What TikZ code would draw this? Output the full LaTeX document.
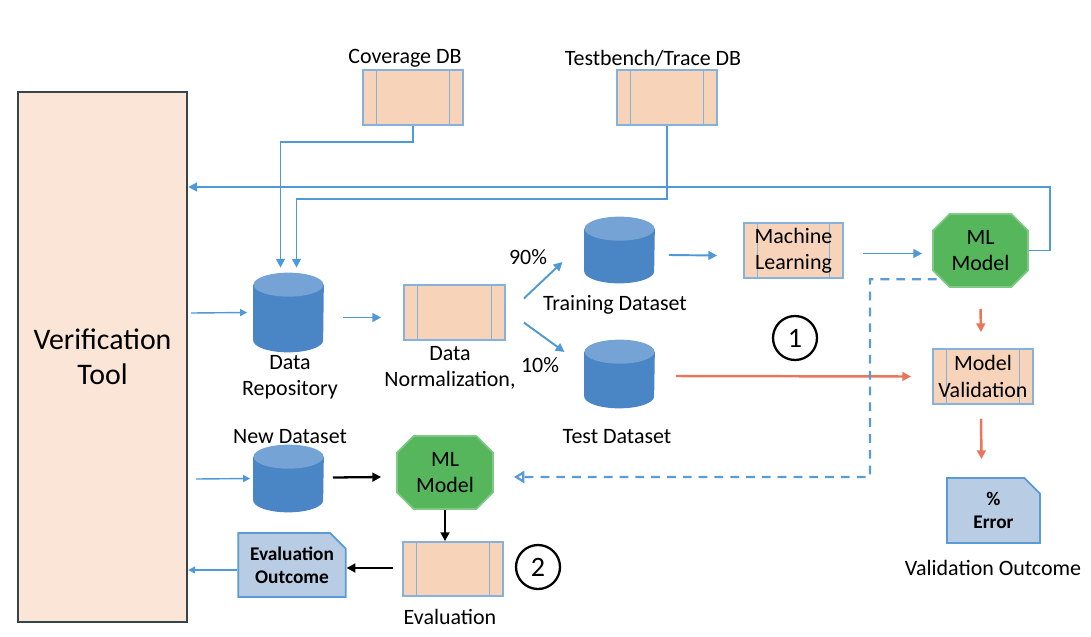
\documentclass[tikz,border=0pt]{standalone}
\usepackage{fontspec}
\setmainfont{Carlito}
\usepackage{tikz}
\usetikzlibrary{shapes.geometric, shapes.misc, positioning, arrows.meta, calc}

\definecolor{peach}{HTML}{F7D3BA}
\definecolor{toolfill}{HTML}{FBE5D6}
\definecolor{tooldraw}{HTML}{34454C}
\definecolor{boxline}{HTML}{84B2DD}
\definecolor{cylbody}{HTML}{4A86C5}
\definecolor{cyltop}{HTML}{75A3D6}
\definecolor{mlgreen}{HTML}{55B65C}
\definecolor{flowblue}{HTML}{4F9AD6}
\definecolor{flowred}{HTML}{E9765B}
\definecolor{outfill}{HTML}{B8CCE4}
\definecolor{outdraw}{HTML}{5B9BD5}

% database drum drawn over a named placeholder node
\newcommand{\drawdb}[1]{%
  \fill[cylbody] ($(#1.north west)+(0,12)$) -- ($(#1.south west)+(0,-12)$)
    arc[start angle=180, end angle=360, x radius=0.7cm, y radius=0.24cm]
    -- ($(#1.north east)+(0,12)$) -- cycle;
  \fill[cyltop] ($(#1.north)+(0,12)$) ellipse[x radius=0.7cm, y radius=0.24cm];
}

\tikzset{
  procbox/.style={draw=boxline, fill=peach, line width=1pt,
    minimum width=2cm, minimum height=1.1cm, inner sep=1pt, align=center,
    path picture={
      \draw[boxline, line width=1pt]
        ([xshift=0.27cm]path picture bounding box.south west) -- ([xshift=0.27cm]path picture bounding box.north west)
        ([xshift=-0.27cm]path picture bounding box.south east) -- ([xshift=-0.27cm]path picture bounding box.north east);
    }},
  dbcyl/.style={rectangle, draw=none, minimum width=1.4cm, minimum height=1.58cm, inner sep=0pt},
  mlmodel/.style={chamfered rectangle, chamfered rectangle xsep=0.22cm,
    fill=mlgreen, draw=mlgreen!75!white, line width=1pt,
    minimum width=1.9cm, minimum height=1.46cm, inner sep=1pt, align=center},
  outbox/.style={chamfered rectangle, chamfered rectangle corners=north east,
    chamfered rectangle xsep=0.2cm, fill=outfill, draw=outdraw, line width=1pt,
    align=center, inner sep=1pt, font=\fontsize{11}{13}\selectfont\bfseries},
  stepnum/.style={circle, draw=black, line width=1.3pt, minimum size=0.88cm,
    inner sep=0pt, font=\fontsize{16}{16}\selectfont},
  caption/.style={align=center, inner sep=0pt},
  bluearr/.style={draw=flowblue, line width=1.1pt, -{Triangle[length=5pt,width=5pt]}},
  thinarr/.style={draw=flowblue, line width=0.8pt, -{Triangle[length=4pt,width=4pt]}},
  redarr/.style={draw=flowred, line width=1.4pt, -{Triangle[length=5pt,width=5pt]}},
  blackarr/.style={draw=black, line width=1.3pt, -{Triangle[length=5pt,width=5pt]}},
  dasharr/.style={draw=outdraw, line width=1.3pt, dashed, dash pattern=on 5pt off 4pt,
    -{Triangle[open, length=6pt, width=7pt]}}
}

\begin{document}
\begin{tikzpicture}[x=0.02cm, y=-0.02cm, font=\fontsize{12.5}{15}\selectfont]
  \useasboundingbox (0,0) rectangle (1091,636);

  % verification tool
  \node (vt) [draw=tooldraw, fill=toolfill, line width=1.4pt,
              minimum width=3.38cm, minimum height=10.6cm, align=center,
              font=\fontsize{17}{20}\selectfont] at (102.5,357) {Verification\\Tool};

  % databases on top
  \node (cov) [procbox] at (413,97.5) {};
  \node [caption] at (405,58) {Coverage DB};
  \node (tb) [procbox] at (667,97.5) {};
  \node [caption] at (653,58) {Testbench/Trace DB};

  % training path
  \node (repo) [dbcyl] at (288.5,312.5) {};
  \drawdb{repo}
  \node [caption] at (290,377) {Data\\Repository};
  \node (norm) [procbox, minimum width=2.02cm] at (454.5,312.5) {};
  \node [caption] at (450,368) {Data\\Normalization,};
  \node (train) [dbcyl, minimum height=1.32cm] at (619.5,250) {};
  \drawdb{train}
  \node [caption] at (615,305) {Training Dataset};
  \node (test) [dbcyl, minimum height=1.36cm] at (619.5,374) {};
  \drawdb{test}
  \node [caption] at (617,437) {Test Dataset};
  \node [caption] at (528,257) {90\%};
  \node [caption] at (540,365) {10\%};
  \node (learn) [procbox, minimum width=1.98cm] at (793.5,250.5) {Machine\\Learning};
  \node (mlm) [mlmodel] at (980.5,250.5) {ML\\Model};
  \node (val) [procbox] at (983,376.5) {Model\\Validation};
  \node (err) [outbox, minimum width=1.86cm, minimum height=1.3cm] at (993.5,510.5) {\%\\Error};
  \node [caption] at (993,568) {Validation Outcome};
  \node (one) [stepnum] at (795,338) {1};

  % evaluation path
  \node (newdata) [dbcyl, minimum height=1.34cm] at (288.5,478.5) {};
  \drawdb{newdata}
  \node [caption] at (290,437) {New Dataset};
  \node (mlm2) [mlmodel, minimum width=1.92cm] at (445,472.5) {ML\\Model};
  \node (eval) [procbox, minimum height=1.08cm] at (453,569) {};
  \node [caption] at (450,617) {Evaluation};
  \node (evout) [outbox, minimum width=2.04cm, minimum height=1.28cm] at (292,565) {Evaluation\\Outcome};
  \node (two) [stepnum] at (538,567) {2};

  % connectors
  \draw[bluearr] (cov.south) |- ($(repo.north)+(-8,-131)$) -- ($(repo.north)+(-8,-5)$);
  \draw[bluearr] (tb.south) |- ($(repo.north)+(8,-74)$) -- ($(repo.north)+(8,-5)$);
  \coordinate (fb) at (1050,187);
  \draw[bluearr] (mlm.east) -| (fb) -- (vt.east |- fb);
  \draw[thinarr] ($(vt.east)+(3,-44)$) -- ($(repo.west)+(-6,0)$);
  \draw[bluearr] ($(repo.east)+(19,5)$) -- ($(norm.west)+(-22,5)$);
  \draw[bluearr] ($(norm.east)+(18,-14)$) -- ($(train.center)+(-57,12)$);
  \draw[bluearr] ($(norm.east)+(18,10)$) -- ($(test.center)+(-55,-22)$);
  \draw[bluearr] ($(train.east)+(14,5)$) -- ($(learn.west)+(-26,5)$);
  \draw[bluearr] ($(learn.east)+(19,3)$) -- ($(mlm.west)+(-10,3)$);
  \draw[redarr] ($(mlm.south)+(0,21)$) -- ($(val.north)+(-2,-16)$);
  \draw[redarr] ($(test.east)+(21,2)$) -- ($(val.west)+(-21,0)$);
  \draw[redarr] ($(val.south)+(-2,14)$) -- ($(err.north)+(-12,-18)$);
  \coordinate (dk) at (870,477);
  \draw[dasharr] ($(mlm.south west)+(-4,0)$) -| (dk) -- ($(mlm2.east)+(20,4.5)$);
  \draw[thinarr] ($(vt.east)+(8,122)$) -- ($(newdata.west)+(-3,0)$);
  \draw[blackarr] ($(newdata.east)+(9,-1)$) -- ($(mlm2.west)+(-15,4.5)$);
  \draw[blackarr] (mlm2.south) -- (eval.north -| mlm2.south);
  \draw[blackarr] ($(eval.west)+(-9,-1)$) -- (evout.east |- 0,568);
  \draw[thinarr] (evout.west |- 0,570) -- (vt.east |- 0,570);
\end{tikzpicture}
\end{document}
